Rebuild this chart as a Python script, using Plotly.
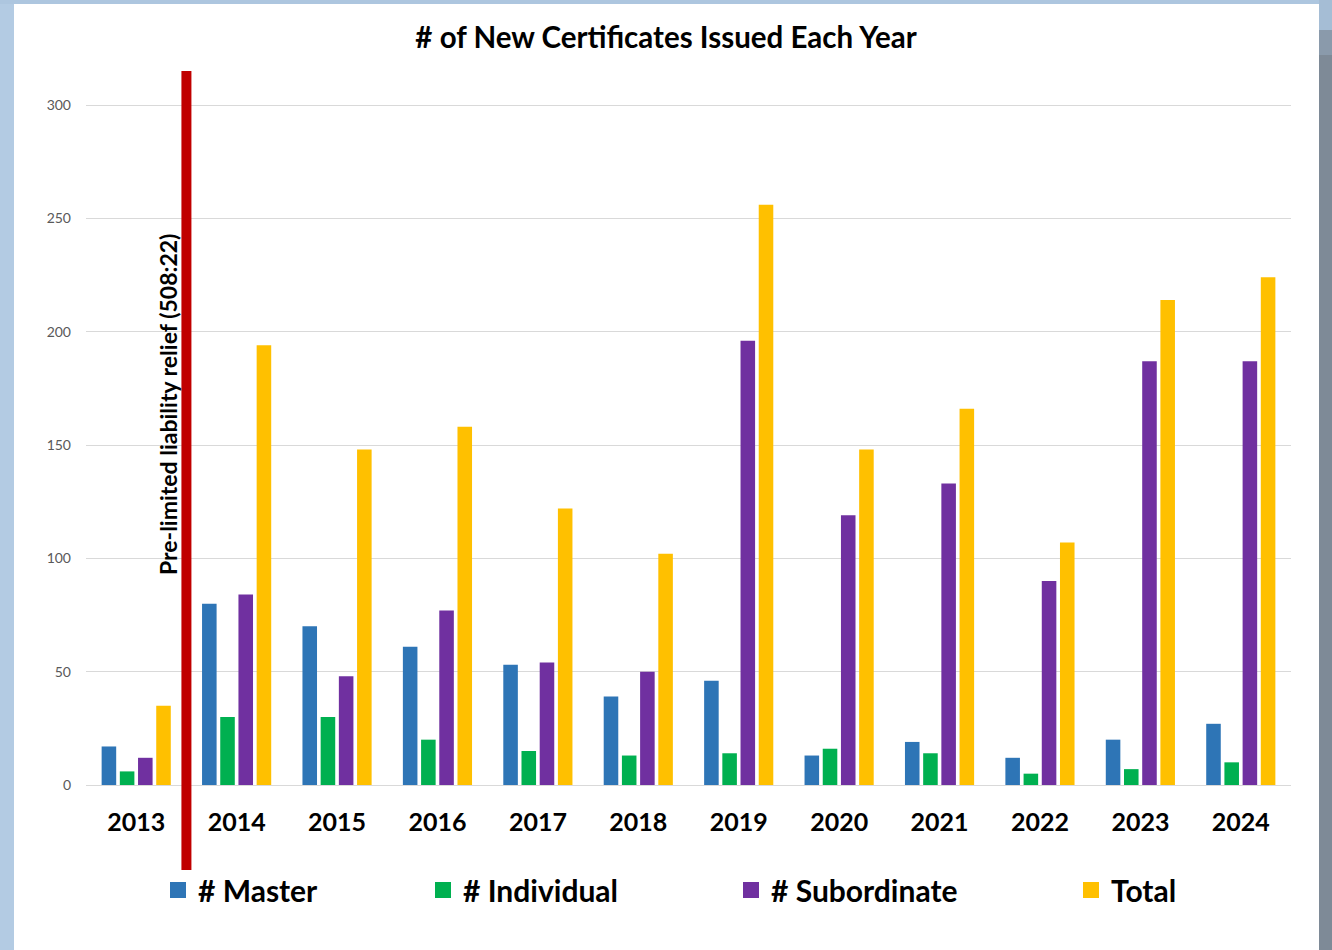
import plotly.graph_objects as go

years = ["2013", "2014", "2015", "2016", "2017", "2018", "2019", "2020", "2021", "2022", "2023", "2024"]
master = [17, 80, 70, 61, 53, 39, 46, 13, 19, 12, 20, 27]
individual = [6, 30, 30, 20, 15, 13, 14, 16, 14, 5, 7, 10]
subordinate = [12, 84, 48, 77, 54, 50, 196, 119, 133, 90, 187, 187]
total = [35, 194, 148, 158, 122, 102, 256, 148, 166, 107, 214, 224]

series_names = ["# Master", "# Individual", "# Subordinate", "Total"]
series_colors = ["#2E75B6", "#00B050", "#7030A0", "#FFC000"]
series_values = [master, individual, subordinate, total]
legend_ids = ["legend", "legend2", "legend3", "legend4"]
legend_x_px = [158, 423, 731, 1071]

FONT = "Lato, 'Open Sans', sans-serif"
W, H = 1332, 950
L, R, T, B = 86, 41, 71, 165
pw, ph = W - L - R, H - T - B

fig = go.Figure()
for name, color, vals, lid in zip(series_names, series_colors, series_values, legend_ids):
    fig.add_trace(go.Bar(x=years, y=vals, name=name, marker=dict(color=color, line=dict(width=0)),
                         showlegend=False))
    fig.add_trace(go.Scatter(x=[None], y=[None], mode="markers", name=name, legend=lid,
                             marker=dict(symbol="square", size=16, color=color, line=dict(width=0)),
                             showlegend=True))

def px_x(p):
    return (p - L) / pw

def px_y(p):
    return (H - B - p) / ph

shapes = [
    # frame
    dict(type="rect", xref="paper", yref="paper", x0=px_x(0), x1=px_x(14), y0=px_y(950), y1=px_y(0),
         fillcolor="#B3CBE3", line=dict(width=0), layer="below"),
    dict(type="rect", xref="paper", yref="paper", x0=px_x(0), x1=px_x(1332), y0=px_y(4), y1=px_y(0),
         fillcolor="#ADC6DF", line=dict(width=0), layer="below"),
    dict(type="rect", xref="paper", yref="paper", x0=px_x(1319), x1=px_x(1332), y0=px_y(950), y1=px_y(55),
         fillcolor="#7E8A97", line=dict(width=0), layer="below"),
    dict(type="rect", xref="paper", yref="paper", x0=px_x(1319), x1=px_x(1332), y0=px_y(55), y1=px_y(30),
         fillcolor="#8A9AAB", line=dict(width=0), layer="below"),
    dict(type="rect", xref="paper", yref="paper", x0=px_x(1319), x1=px_x(1332), y0=px_y(30), y1=px_y(0),
         fillcolor="#A5BDD5", line=dict(width=0), layer="below"),
    # red divider line
    dict(type="line", xref="x", yref="paper", x0=0.5, x1=0.5, y0=px_y(870), y1=px_y(71),
         line=dict(color="#C00000", width=10), layer="above"),
]

legends = {}
for lid, lx in zip(legend_ids, legend_x_px):
    legends[lid] = dict(orientation="h", x=lx / W, xref="container", xanchor="left",
                        y=1 - 890 / H, yref="container", yanchor="middle",
                        font=dict(family=FONT, size=30, color="#000000", weight="bold"),
                        bgcolor="rgba(0,0,0,0)", itemclick=False)

fig.update_layout(
    width=W, height=H,
    margin=dict(l=L, r=R, t=T, b=B),
    paper_bgcolor="#FFFFFF", plot_bgcolor="#FFFFFF",
    barmode="group", bargap=0.275, bargroupgap=0.2,
    title=dict(text="# of New Certificates Issued Each Year", x=0.5, xanchor="center",
               y=1 - 38 / H, yanchor="middle", yref="container",
               font=dict(family=FONT, size=29.5, color="#000000", weight="bold")),
    xaxis=dict(type="category", tickfont=dict(family=FONT, size=25, color="#000000", weight="bold"),
               showgrid=False, showline=False, zeroline=False, ticks="", ticklabelstandoff=20),
    yaxis=dict(range=[0, 315], tickvals=[0, 50, 100, 150, 200, 250, 300],
               tickfont=dict(family=FONT, size=14, color="#595959"),
               showgrid=True, gridcolor="#D9D9D9", gridwidth=1,
               zeroline=True, zerolinecolor="#D9D9D9", zerolinewidth=1,
               showline=False, ticks="", ticklabelstandoff=14),
    shapes=shapes,
    annotations=[dict(text="Pre-limited liability relief (508:22)", textangle=-90,
                      xref="paper", yref="paper", x=px_x(168), y=px_y(405),
                      xanchor="center", yanchor="middle", showarrow=False,
                      font=dict(family=FONT, size=23, color="#000000", weight="bold"))],
    **legends,
)

fig.write_html("out.html", config={"displayModeBar": False},
               post_script="document.body.style.margin='0';document.body.style.overflow='hidden';")
